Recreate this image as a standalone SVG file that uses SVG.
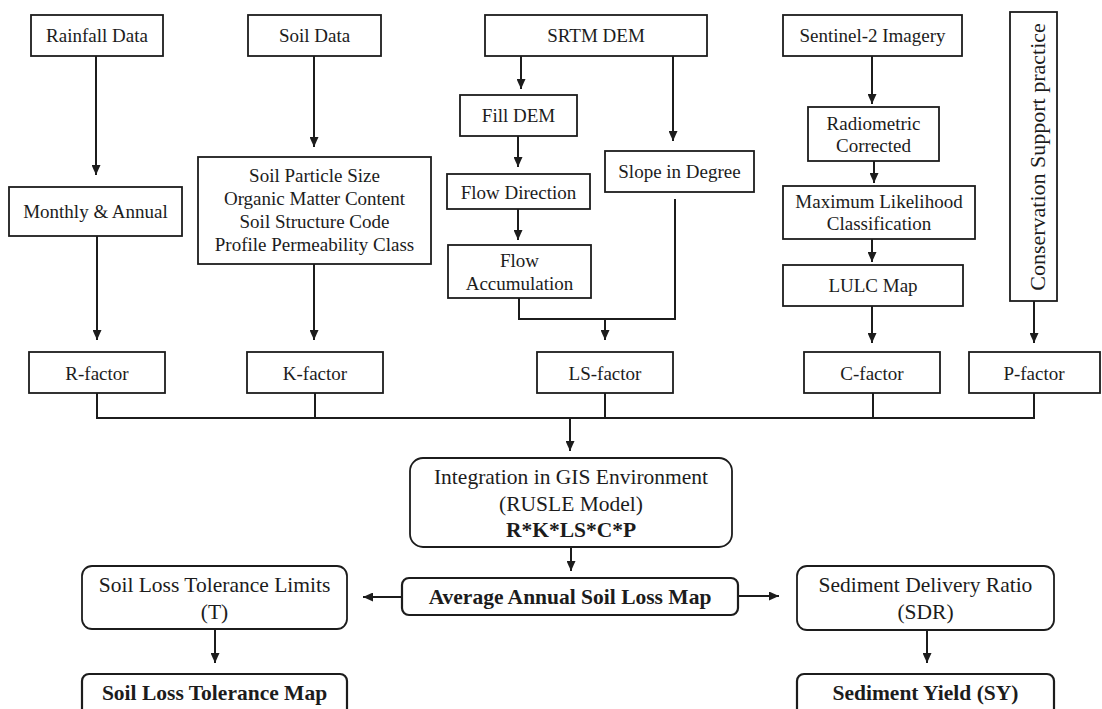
<svg xmlns="http://www.w3.org/2000/svg" width="1102" height="709" viewBox="0 0 1102 709">
<defs>
<style>
.box{fill:#fff;stroke:#1c1c1c;stroke-width:1.8}
.bx2{fill:#fff;stroke:#1c1c1c;stroke-width:2.2}
.t{font-family:"Liberation Serif","Times New Roman",serif;font-size:19px;fill:#1c1c1c;text-anchor:middle}
.l{font-size:21.5px}
.b{font-weight:bold}
.c{fill:none;stroke:#1c1c1c;stroke-width:2}
</style>
<marker id="ah" markerUnits="userSpaceOnUse" markerWidth="10" markerHeight="9" refX="10" refY="4.5" orient="auto">
<path d="M0,0 L10,4.5 L0,9 z" fill="#1c1c1c"/>
</marker>
</defs>
<rect width="1102" height="709" fill="#fff"/>

<g id="connectors">
<path class="c" d="M96,56 V175" marker-end="url(#ah)"/>
<path class="c" d="M97,236 V340" marker-end="url(#ah)"/>
<path class="c" d="M314,56 V147" marker-end="url(#ah)"/>
<path class="c" d="M314,264 V340" marker-end="url(#ah)"/>
<path class="c" d="M521,56 V89" marker-end="url(#ah)"/>
<path class="c" d="M518,136 V167" marker-end="url(#ah)"/>
<path class="c" d="M518,209 V240" marker-end="url(#ah)"/>
<path class="c" d="M673,56 V141" marker-end="url(#ah)"/>
<path class="c" d="M519,298 V319 H675 V199"/>
<path class="c" d="M605,319 V340" marker-end="url(#ah)"/>
<path class="c" d="M872,56 V104" marker-end="url(#ah)"/>
<path class="c" d="M874,161 V183" marker-end="url(#ah)"/>
<path class="c" d="M872,239 V262" marker-end="url(#ah)"/>
<path class="c" d="M872,306 V343" marker-end="url(#ah)"/>
<path class="c" d="M1034,301 V343" marker-end="url(#ah)"/>
<path class="c" d="M97,393 V418 H1034 V393 M315,393 V418 M605,393 V418 M873,393 V418"/>
<path class="c" d="M570,418 V451" marker-end="url(#ah)"/>
<path class="c" d="M571,547 V571" marker-end="url(#ah)"/>
<path class="c" d="M402,597 H363" marker-end="url(#ah)"/>
<path class="c" d="M738,596 H779" marker-end="url(#ah)"/>
<path class="c" d="M215,629 V663" marker-end="url(#ah)"/>
<path class="c" d="M927,630 V663" marker-end="url(#ah)"/>
</g>

<g id="rainfall"><rect class="box" x="31" y="15" width="132" height="41"/><text class="t" x="97" y="42">Rainfall Data</text></g>
<g id="soil"><rect class="box" x="248" y="15" width="133" height="41"/><text class="t" x="314.5" y="42">Soil Data</text></g>
<g id="srtm"><rect class="box" x="485" y="15" width="222" height="41"/><text class="t" x="596" y="42">SRTM DEM</text></g>
<g id="sentinel"><rect class="box" x="783" y="15" width="179" height="41"/><text class="t" x="872.5" y="42">Sentinel-2 Imagery</text></g>
<g id="conservation"><rect class="box" x="1010" y="12" width="47" height="289"/><text class="t" style="font-size:22px" transform="translate(1045,157) rotate(-90)" x="0" y="0">Conservation Support practice</text></g>

<g id="monthly"><rect class="box" x="9" y="187" width="173" height="49"/><text class="t" x="95.5" y="218">Monthly &amp; Annual</text></g>
<g id="soilparams"><rect class="box" x="198" y="157" width="233" height="107"/>
<text class="t" x="314.5" y="182">Soil Particle Size</text>
<text class="t" x="314.5" y="205">Organic Matter Content</text>
<text class="t" x="314.5" y="228">Soil Structure Code</text>
<text class="t" x="314.5" y="251">Profile Permeability Class</text></g>
<g id="filldem"><rect class="box" x="460" y="95" width="117" height="41"/><text class="t" x="518.5" y="122">Fill DEM</text></g>
<g id="flowdir"><rect class="box" x="447" y="174" width="143" height="35"/><text class="t" x="518.5" y="198.5">Flow Direction</text></g>
<g id="flowacc"><rect class="box" x="448" y="245" width="143" height="53"/><text class="t" x="519.5" y="267">Flow</text><text class="t" x="519.5" y="290">Accumulation</text></g>
<g id="slope"><rect class="box" x="605" y="151" width="149" height="41"/><text class="t" x="679.5" y="178">Slope in Degree</text></g>
<g id="radiometric"><rect class="box" x="808" y="107" width="131" height="54"/><text class="t" x="873.5" y="130">Radiometric</text><text class="t" x="873.5" y="152">Corrected</text></g>
<g id="mlc"><rect class="box" x="783" y="186" width="192" height="53"/><text class="t" x="879" y="208">Maximum Likelihood</text><text class="t" x="879" y="230">Classification</text></g>
<g id="lulc"><rect class="box" x="783" y="265" width="180" height="41"/><text class="t" x="873" y="292">LULC Map</text></g>

<g id="rfactor"><rect class="box" x="29" y="352" width="136" height="41"/><text class="t" x="97" y="379.5">R-factor</text></g>
<g id="kfactor"><rect class="box" x="247" y="352" width="136" height="41"/><text class="t" x="315" y="379.5">K-factor</text></g>
<g id="lsfactor"><rect class="box" x="537" y="352" width="136" height="41"/><text class="t" x="605" y="379.5">LS-factor</text></g>
<g id="cfactor"><rect class="box" x="804" y="352" width="136" height="41"/><text class="t" x="872" y="379.5">C-factor</text></g>
<g id="pfactor"><rect class="box" x="969" y="352" width="131" height="41"/><text class="t" x="1034" y="379.5">P-factor</text></g>

<g id="integration"><rect class="box" x="410" y="458" width="322" height="89" rx="13"/>
<text class="t l" x="571" y="484">Integration in GIS Environment</text>
<text class="t l" x="571" y="511">(RUSLE Model)</text>
<text class="t l b" x="571" y="537">R*K*LS*C*P</text></g>
<g id="average"><rect class="bx2" x="402" y="578" width="336" height="37" rx="7"/><text class="t l b" x="570" y="604">Average Annual Soil Loss Map</text></g>
<g id="tolerance"><rect class="box" x="82" y="566" width="265" height="63" rx="10"/><text class="t l" x="214.5" y="592">Soil Loss Tolerance Limits</text><text class="t l" x="214.5" y="619">(T)</text></g>
<g id="sdr"><rect class="box" x="797" y="566" width="257" height="64" rx="10"/><text class="t l" x="925.5" y="592">Sediment Delivery Ratio</text><text class="t l" x="925.5" y="619">(SDR)</text></g>
<g id="tolmap"><rect class="bx2" x="82" y="674" width="265" height="50" rx="7"/><text class="t l b" x="214.5" y="700">Soil Loss Tolerance Map</text></g>
<g id="sy"><rect class="bx2" x="797" y="674" width="257" height="50" rx="7"/><text class="t l b" x="925.5" y="700">Sediment Yield (SY)</text></g>
</svg>
